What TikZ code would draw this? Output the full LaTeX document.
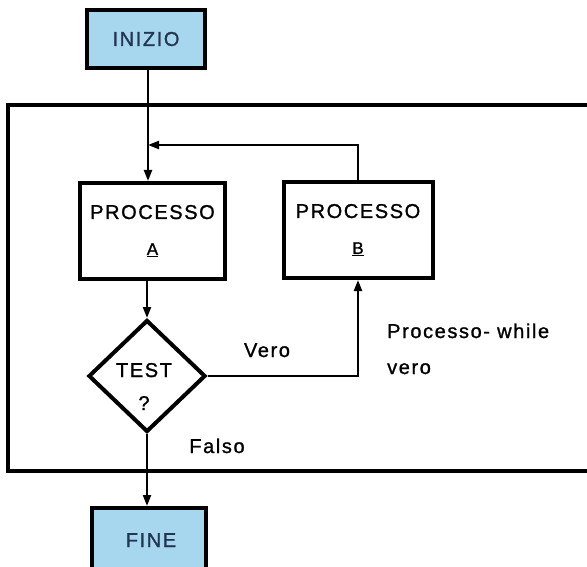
\documentclass[tikz,border=0pt]{standalone}
\usepackage{fontspec}
\setmainfont[LetterSpace=8,FakeBold=1.2]{Liberation Sans}
\usetikzlibrary{arrows.meta,shapes.geometric}
\definecolor{termblue}{HTML}{A7D6EF}
\definecolor{navytext}{HTML}{233650}
\begin{document}
\begin{tikzpicture}[x=1pt,y=-1pt,
  term/.style={draw, line width=4pt, fill=termblue, text=navytext,
    minimum width=118pt, minimum height=58pt, inner sep=0pt,
    font=\fontsize{20}{22}\selectfont},
  proc/.style={draw, line width=4pt, fill=white, align=center,
    minimum height=96pt, inner sep=0pt,
    font=\fontsize{20}{23}\selectfont},
  dec/.style={diamond, draw, line width=4pt, fill=white,
    minimum width=117pt, minimum height=112pt, inner sep=0pt},
  dectext/.style={align=center, inner sep=0pt,
    font=\fontsize{20}{23}\selectfont},
  lbl/.style={inner sep=0pt, font=\fontsize{20}{22}\selectfont},
  conn/.style={line width=2.2pt},
  arr/.style={conn, -{Triangle[length=11pt,width=8pt]}}]
\useasboundingbox (0,0) rectangle (587,567);

% outer loop frame
\coordinate (fr1) at (600,105);
\coordinate (fr2) at (8,105);
\coordinate (fr3) at (8,471);
\coordinate (fr4) at (600,471);
\draw[line width=3.2pt] (fr1) -- (fr2) -- (fr3) -- (fr4);

\node[term] (inizio) at (146,39) {INIZIO};
\node[proc, minimum width=145pt] (a) at (152.5,231)
  {PROCESSO\\[13pt]{\fontsize{17}{18}\selectfont\underline{A}}};
\node[proc, minimum width=149pt] (b) at (358,230)
  {PROCESSO\\[13pt]{\fontsize{17}{18}\selectfont\underline{B}}};
\node[dec] (test) at (147,376) {};
\node[dectext, anchor=base] (testtxt) at (144,410) {TEST\\[10pt]?};
\node[term, minimum width=114pt, minimum height=66pt] (fine) at (149,541) {};
\node[text=navytext, inner sep=0pt, font=\fontsize{20}{22}\selectfont,
  anchor=base] (finetxt) at (151,547) {FINE};

\coordinate (j) at (148,145);

\draw[arr] (inizio.south -| j) -- (j |- a.north);
\draw[arr] (b.north) |- (j);
\draw[arr] (a.south -| test.north) -- (test.north);
\draw[arr] (test.east) -| (b.south);
\draw[arr] (test.south) -- (test.south |- fine.north);

\node[lbl, anchor=base] (vero) at (267,357) {Vero};
\node[lbl, anchor=base west] (pw) at (387,338) {Processo- while};
\node[lbl, anchor=base west] (vero2) at (387,374) {vero};
\node[lbl, anchor=base] (falso) at (217,453) {Falso};
\end{tikzpicture}
\end{document}
